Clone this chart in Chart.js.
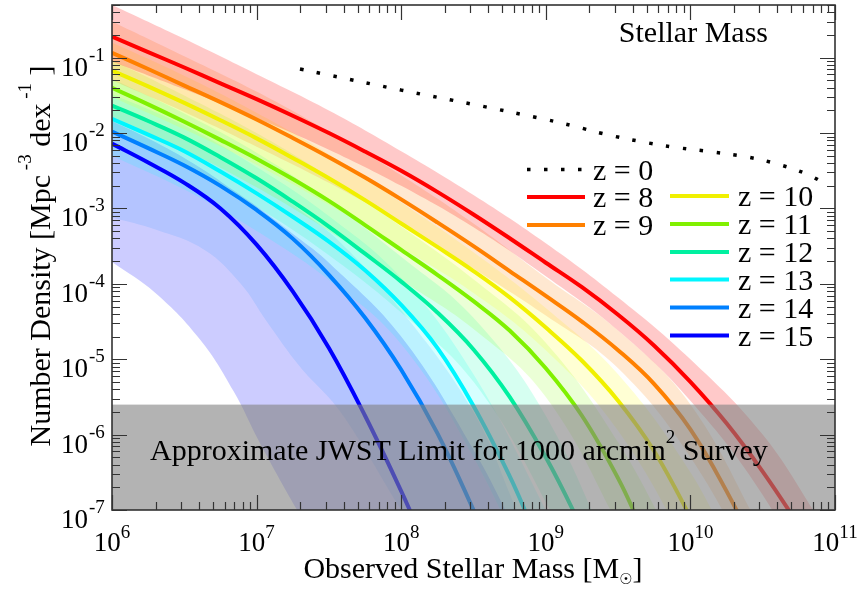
<!DOCTYPE html>
<html>
<head>
<meta charset="utf-8">
<script src="https://cdn.jsdelivr.net/npm/chart.js@4.4.1/dist/chart.umd.min.js"></script>
<style>
html,body{margin:0;padding:0;background:#fff;}
#wrap{width:862px;height:590px;}
</style>
</head>
<body>
<div id="wrap"><canvas id="c" width="862" height="590"></canvas></div>
<script>
// ---------------- DATA (log10 units: mass in M_sun, number density in Mpc^-3 dex^-1) ----------------
const seriesLabels = ['z = 0', 'z = 8', 'z = 9', 'z = 10', 'z = 11', 'z = 12', 'z = 13', 'z = 14', 'z = 15'];

const z0Mass  = [7.3, 7.5, 8.0, 8.5, 9.0, 9.2, 9.4, 9.65, 9.9, 10.15, 10.4, 10.6, 10.8, 10.95];
const z0Phi   = [-1.15, -1.23, -1.43, -1.62, -1.82, -1.91, -2.01, -2.11, -2.19, -2.25, -2.32, -2.41, -2.54, -2.69];

const z8Mass  = [6.0, 6.25, 6.5, 6.75, 7.0, 7.25, 7.5, 7.75, 8.0, 8.25, 8.5, 8.75, 9.0, 9.25, 9.5, 9.75, 10.0, 10.25, 10.5, 10.75, 11.0];
const z8Phi   = [-0.72, -0.925, -1.13, -1.34, -1.55, -1.77, -2.0, -2.245, -2.5, -2.78, -3.08, -3.395, -3.72, -4.045, -4.41, -4.82, -5.30, -5.85, -6.49, -7.21, -8.0];

const z9Mass  = [6.0, 6.25, 6.5, 6.75, 7.0, 7.25, 7.5, 7.75, 8.0, 8.25, 8.5, 8.75, 9.0, 9.25, 9.5, 9.75, 10.0, 10.25, 10.5];
const z9Phi   = [-0.935, -1.15, -1.37, -1.59, -1.82, -2.065, -2.32, -2.59, -2.88, -3.185, -3.50, -3.83, -4.16, -4.50, -4.88, -5.33, -5.93, -6.75, -7.7];

const z10Mass = [6.0, 6.25, 6.5, 6.75, 7.0, 7.25, 7.5, 7.75, 8.0, 8.25, 8.5, 8.75, 9.0, 9.25, 9.5, 9.75, 10.0, 10.2];
const z10Phi  = [-1.17, -1.38, -1.60, -1.83, -2.07, -2.33, -2.60, -2.89, -3.20, -3.51, -3.83, -4.18, -4.58, -5.02, -5.55, -6.22, -7.1, -7.9];

const z11Mass = [6.0, 6.25, 6.5, 6.75, 7.0, 7.25, 7.5, 7.75, 8.0, 8.25, 8.5, 8.75, 9.0, 9.25, 9.5, 9.65, 9.75];
const z11Phi  = [-1.40, -1.62, -1.85, -2.09, -2.34, -2.61, -2.90, -3.22, -3.55, -3.88, -4.23, -4.62, -5.12, -5.75, -6.58, -7.2, -7.7];

const z12Mass = [6.0, 6.25, 6.5, 6.75, 7.0, 7.25, 7.5, 7.75, 8.0, 8.25, 8.5, 8.75, 9.0, 9.2, 9.3];
const z12Phi  = [-1.635, -1.84, -2.06, -2.32, -2.60, -2.91, -3.24, -3.60, -3.97, -4.38, -4.87, -5.50, -6.30, -7.05, -7.5];

const z13Mass = [6.0, 6.25, 6.5, 6.75, 7.0, 7.25, 7.5, 7.75, 8.0, 8.25, 8.5, 8.75, 8.9];
const z13Phi  = [-1.81, -2.02, -2.24, -2.51, -2.80, -3.11, -3.44, -3.82, -4.28, -4.85, -5.62, -6.55, -7.2];

const z14Mass = [6.0, 6.25, 6.5, 6.75, 7.0, 7.25, 7.5, 7.75, 8.0, 8.25, 8.5, 8.6];
const z14Phi  = [-1.98, -2.20, -2.43, -2.70, -3.02, -3.40, -3.88, -4.45, -5.14, -5.98, -7.0, -7.45];

const z15Mass = [6.0, 6.25, 6.5, 6.75, 7.0, 7.25, 7.5, 7.75, 8.0, 8.15];
const z15Phi  = [-2.14, -2.39, -2.66, -3.0, -3.48, -4.10, -4.85, -5.75, -6.75, -7.4];

// uncertainty bands (upper / lower edges)
const z8BandMass  = [6.0, 6.5, 7.0, 7.5, 8.0, 8.5, 9.0, 9.5, 10.0, 10.5, 10.9];
const z8BandHigh  = [-0.30, -0.75, -1.22, -1.70, -2.24, -2.82, -3.46, -4.18, -5.0, -6.0, -7.15];
const z8BandLow   = [-1.05, -1.42, -1.80, -2.22, -2.70, -3.25, -3.90, -4.62, -5.55, -6.8, -8.2];

const z9BandMass  = [6.0, 6.5, 7.0, 7.5, 8.0, 8.5, 9.0, 9.5, 10.0, 10.5];
const z9BandHigh  = [-0.52, -0.98, -1.45, -1.98, -2.56, -3.2, -3.92, -4.62, -5.6, -7.3];
const z9BandLow   = [-1.30, -1.72, -2.18, -2.66, -3.2, -3.8, -4.42, -5.12, -6.3, -8.0];

const z10BandMass = [6.0, 6.5, 7.0, 7.5, 8.0, 8.5, 9.0, 9.5, 10.0, 10.3];
const z10BandHigh = [-0.80, -1.24, -1.73, -2.28, -2.92, -3.58, -4.32, -5.20, -6.5, -7.6];
const z10BandLow  = [-1.52, -1.95, -2.42, -2.95, -3.52, -4.12, -4.88, -5.95, -7.6, -8.8];

const z11BandMass = [6.0, 6.5, 7.0, 7.5, 8.0, 8.5, 9.0, 9.5, 9.9];
const z11BandHigh = [-1.03, -1.5, -2.0, -2.58, -3.24, -3.94, -4.78, -6.1, -7.5];
const z11BandLow  = [-1.78, -2.22, -2.72, -3.3, -3.95, -4.6, -5.5, -7.2, -8.8];

const z12BandMass = [6.0, 6.5, 7.0, 7.5, 8.0, 8.5, 9.0, 9.5];
const z12BandHigh = [-1.28, -1.74, -2.26, -2.9, -3.64, -4.45, -5.75, -7.8];
const z12BandLow  = [-2.0, -2.45, -2.98, -3.62, -4.38, -5.3, -6.9, -9.0];

const z13BandMass = [6.0, 6.5, 7.0, 7.5, 8.0, 8.5, 9.0, 9.2];
const z13BandHigh = [-1.48, -1.9, -2.45, -3.1, -3.92, -5.2, -7.0, -7.8];
const z13BandLow  = [-2.3, -2.75, -3.3, -3.95, -4.8, -6.3, -8.3, -9.0];

const z14BandMass = [6.0, 6.3, 6.64, 6.89, 7.07, 7.3, 7.58, 8.0, 8.5, 8.8, 9.0];
const z14BandHigh = [-1.62, -1.86, -2.2, -2.48, -2.7, -3.02, -3.45, -4.35, -5.7, -7.0, -7.8];
const z14BandLow  = [-3.12, -3.28, -3.55, -4.0, -4.5, -5.1, -5.7, -7.0, -8.5, -9.5, -10.0];

const z15BandMass = [6.0, 6.3, 6.61, 6.84, 7.02, 7.28, 7.5, 8.0, 8.5, 8.8];
const z15BandHigh = [-1.84, -2.12, -2.46, -2.76, -3.0, -3.38, -3.72, -4.7, -6.2, -7.3];
const z15BandLow  = [-3.71, -4.12, -4.74, -5.42, -6.1, -7.0, -7.7, -9.0, -9.8, -10.0];

const jwstLimit = 2.5e-6;
const xTickExponents = [6, 7, 8, 9, 10, 11];
const yTickExponents = [-7, -6, -5, -4, -3, -2, -1];
const xRange = [1e6, 1e11];
const yRange = [1e-7, 0.5];

// ---------------- STYLE ----------------
const FONT = '"Liberation Serif", "Times New Roman", "DejaVu Serif", serif';
const SYMFONT = '"DejaVu Sans", "Liberation Serif", sans-serif';
const lineColors = ['#000000', '#ff0000', '#ff8000', '#f0f000', '#80f000', '#00f0a0', '#00f6ff', '#0080ff', '#0000ff'];
const bandRGB = ['255,0,0', '255,128,0', '255,255,0', '128,255,0', '0,255,170', '0,255,255', '0,128,255', '0,0,255'];
const bandAlpha = [0.21, 0.18, 0.17, 0.16, 0.16, 0.16, 0.12, 0.2];
const TENSION = 0.4;

const P = v => Math.pow(10, v);
const pts = (m, p) => m.map((v, i) => ({x: P(v), y: P(p[i])}));

const lineMass = [z0Mass, z8Mass, z9Mass, z10Mass, z11Mass, z12Mass, z13Mass, z14Mass, z15Mass];
const linePhi  = [z0Phi, z8Phi, z9Phi, z10Phi, z11Phi, z12Phi, z13Phi, z14Phi, z15Phi];
const bandMass = [z8BandMass, z9BandMass, z10BandMass, z11BandMass, z12BandMass, z13BandMass, z14BandMass, z15BandMass];
const bandHigh = [z8BandHigh, z9BandHigh, z10BandHigh, z11BandHigh, z12BandHigh, z13BandHigh, z14BandHigh, z15BandHigh];
const bandLow  = [z8BandLow, z9BandLow, z10BandLow, z11BandLow, z12BandLow, z13BandLow, z14BandLow, z15BandLow];

const datasets = [];
seriesLabels.forEach((lab, i) => {
  const dotted = i === 0;
  datasets.push({
    label: lab,
    data: pts(lineMass[i], linePhi[i]),
    borderColor: lineColors[i],
    borderWidth: dotted ? 3.5 : 4,
    borderDash: dotted ? [3.5, 13.5] : [],
    borderCapStyle: 'butt',
    pointRadius: 0,
    fill: false,
    tension: TENSION,
    order: 0,
    clip: 0
  });
});
bandMass.forEach((m, i) => {
  const iu = datasets.length;
  datasets.push({
    label: seriesLabels[i + 1] + ' band high',
    data: pts(m, bandHigh[i]),
    borderColor: 'rgba(0,0,0,0)', borderWidth: 1, pointRadius: 0, fill: false,
    tension: TENSION, order: 10, clip: 0
  });
  datasets.push({
    label: seriesLabels[i + 1] + ' band low',
    data: pts(m, bandLow[i]),
    borderColor: 'rgba(0,0,0,0)', borderWidth: 1, pointRadius: 0,
    fill: iu, backgroundColor: 'rgba(' + bandRGB[i] + ',' + bandAlpha[i] + ')',
    tension: TENSION, order: 10, clip: 0
  });
});

function richWidth(ctx, parts) {
  let w = 0;
  for (const p of parts) { ctx.font = p.size + 'px ' + (p.sym ? SYMFONT : FONT); w += ctx.measureText(p.t).width; }
  return w;
}
function drawRich(ctx, parts, x, y, align) {
  const w = richWidth(ctx, parts);
  let cx = align === 'center' ? x - w / 2 : (align === 'right' ? x - w : x);
  ctx.textAlign = 'left';
  ctx.textBaseline = 'alphabetic';
  for (const p of parts) {
    ctx.font = p.size + 'px ' + (p.sym ? SYMFONT : FONT);
    ctx.fillText(p.t, cx, y + (p.dy || 0));
    cx += ctx.measureText(p.t).width;
  }
}

const overlay = {
  id: 'overlay',
  afterDatasetsDraw(chart) {
    const {ctx, chartArea: a, scales: {y}} = chart;
    const y0 = y.getPixelForValue(jwstLimit);
    ctx.save();
    ctx.fillStyle = 'rgba(128,128,128,0.6)';
    ctx.fillRect(a.left, y0, a.right - a.left, a.bottom - y0);
    ctx.restore();
  },
  afterDraw(chart) {
    const {ctx, chartArea: a, scales: {x, y}} = chart;
    ctx.save();
    ctx.fillStyle = '#000';
    drawRich(ctx, [
      {t: 'Approximate JWST Limit for 1000 arcmin', size: 30},
      {t: '2', size: 19, dy: -17},
      {t: ' Survey', size: 30}
    ], 150, 460, 'left');
    ctx.font = '30px ' + FONT;
    ctx.textAlign = 'right';
    ctx.fillText('Stellar Mass', 768, 42);

    ctx.strokeStyle = '#333';
    ctx.lineWidth = 1.6;
    ctx.strokeRect(a.left, a.top, a.right - a.left, a.bottom - a.top);
    ctx.lineWidth = 1.2;
    ctx.beginPath();
    for (let k = xTickExponents[0]; k <= xTickExponents[xTickExponents.length - 1]; k++) {
      for (let m = 1; m <= 9; m++) {
        const v = m * Math.pow(10, k);
        if (v < xRange[0] * 0.999 || v > xRange[1] * 1.001) continue;
        const px = Math.round(x.getPixelForValue(v)) + 0.5;
        const len = m === 1 ? 15 : 8;
        ctx.moveTo(px, a.bottom); ctx.lineTo(px, a.bottom - len);
        ctx.moveTo(px, a.top); ctx.lineTo(px, a.top + len);
      }
    }
    for (let k = yTickExponents[0]; k <= 0; k++) {
      for (let m = 1; m <= 9; m++) {
        const v = m * Math.pow(10, k);
        if (v < yRange[0] * 0.999 || v > yRange[1] * 1.001) continue;
        const py = Math.round(y.getPixelForValue(v)) + 0.5;
        const len = m === 1 ? 15 : 8;
        ctx.moveTo(a.left, py); ctx.lineTo(a.left + len, py);
        ctx.moveTo(a.right, py); ctx.lineTo(a.right - len, py);
      }
    }
    ctx.stroke();

    ctx.fillStyle = '#000';
    xTickExponents.forEach(e => {
      const px = x.getPixelForValue(Math.pow(10, e));
      drawRich(ctx, [{t: '10', size: 27}, {t: String(e), size: 19, dy: -13}], px, 551, 'center');
    });
    yTickExponents.forEach(e => {
      const py = y.getPixelForValue(Math.pow(10, e));
      ctx.font = '27px ' + FONT;
      ctx.textAlign = 'right';
      ctx.fillText('10', 88, py + 18);
      ctx.font = '19px ' + FONT;
      ctx.textAlign = 'left';
      ctx.fillText(String(e), 89, py + 3);
    });

    drawRich(ctx, [
      {t: 'Observed Stellar Mass [M', size: 30},
      {t: '\u2609', size: 15, dy: 6, sym: true},
      {t: ']', size: 30}
    ], 473, 578, 'center');
    ctx.save();
    ctx.translate(50, 256);
    ctx.rotate(-Math.PI / 2);
    drawRich(ctx, [
      {t: 'Number Density [Mpc', size: 30},
      {t: ' -3', size: 19, dy: -19},
      {t: ' dex', size: 30},
      {t: ' -1', size: 19, dy: -19},
      {t: ' ]', size: 30}
    ], 0, 0, 'center');
    ctx.restore();

    const col1 = {x0: 527, x1: 585, tx: 593, idx: [0, 1, 2], ys: [169.5, 197, 225]};
    const col2 = {x0: 670, x1: 729, tx: 738, idx: [3, 4, 5, 6, 7, 8], ys: [196, 224, 252, 279.5, 307.5, 335.5]};
    [col1, col2].forEach(c => {
      c.idx.forEach((i, r) => {
        const yy = c.ys[r];
        ctx.save();
        ctx.strokeStyle = lineColors[i];
        ctx.lineCap = 'butt';
        if (i === 0) { ctx.setLineDash([3.5, 13.5]); ctx.lineWidth = 3.5; }
        else { ctx.setLineDash([]); ctx.lineWidth = 4; }
        ctx.beginPath(); ctx.moveTo(c.x0, yy); ctx.lineTo(c.x1, yy); ctx.stroke();
        ctx.restore();
        ctx.font = '30px ' + FONT;
        ctx.textAlign = 'left';
        ctx.fillStyle = '#000';
        ctx.fillText(seriesLabels[i], c.tx, yy + 10);
      });
    });
    ctx.restore();
  }
};

new Chart(document.getElementById('c'), {
  type: 'line',
  data: {datasets},
  options: {
    responsive: false,
    animation: false,
    devicePixelRatio: 1,
    layout: {padding: {left: 112, right: 27, top: 5, bottom: 80}},
    plugins: {legend: {display: false}, tooltip: {enabled: false}, filler: {propagate: false}},
    scales: {
      x: {type: 'logarithmic', min: xRange[0], max: xRange[1], display: false},
      y: {type: 'logarithmic', min: yRange[0], max: yRange[1], display: false}
    }
  },
  plugins: [overlay]
});
</script>
</body>
</html>
